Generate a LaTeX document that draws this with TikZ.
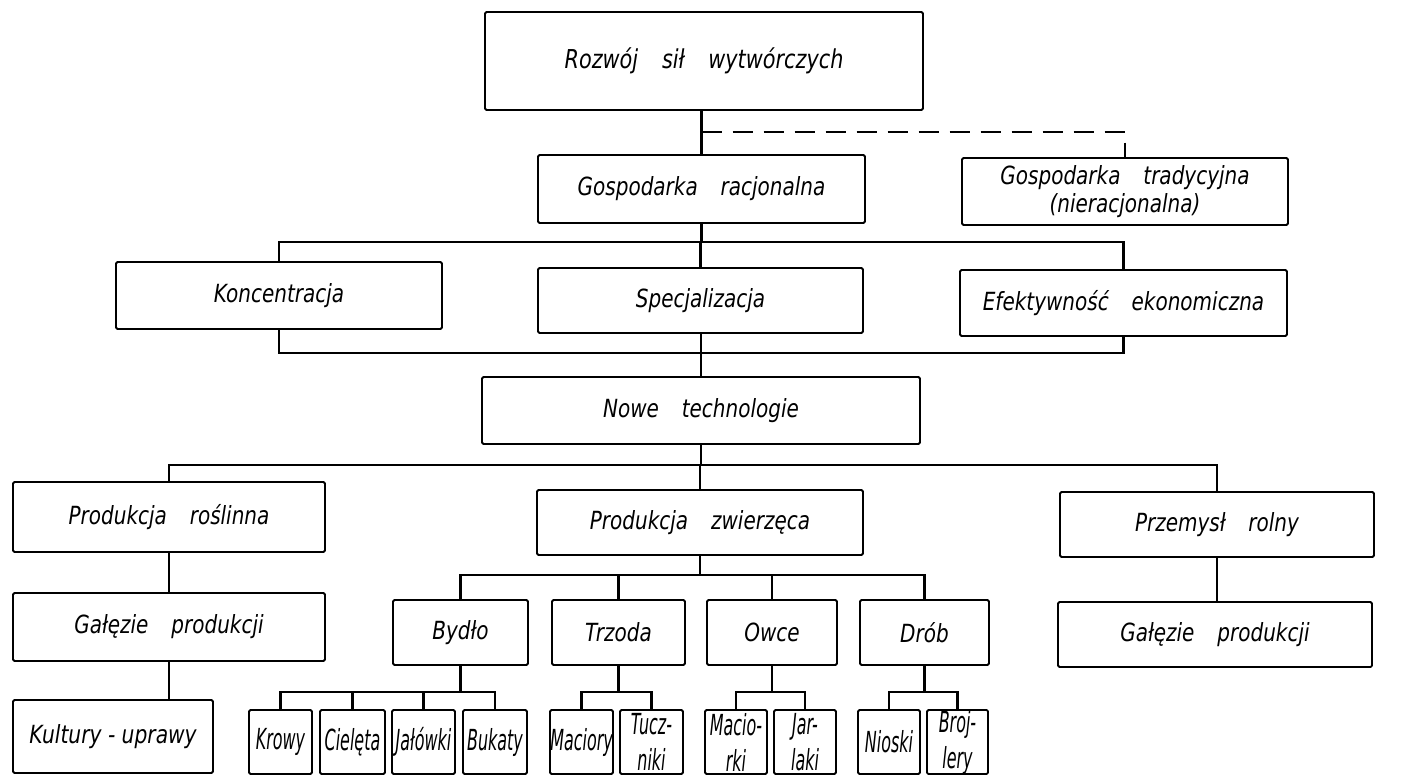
\documentclass[tikz,border=0pt]{standalone}
\usepackage{fontspec}
\newfontfamily\lett[FakeStretch=0.8,WordSpace=3.6]{DejaVu Sans}
\newfontfamily\lettk[FakeStretch=0.81]{DejaVu Sans}
\newfontfamily\lettn[FakeStretch=0.55]{DejaVu Sans}
\begin{document}
\begin{tikzpicture}[x=1pt,y=-1pt,
  box/.style={draw,line width=1.8pt,rounded corners=1.5pt,inner sep=0pt,
    font=\lett\itshape\fontsize{25}{28}\selectfont,align=center},
  leaf/.style={box,font=\lettn\itshape\fontsize{29}{36}\selectfont},
  conn/.style={line width=2.4pt},
  dashline/.style={line width=2.6pt,dash pattern=on 20pt off 11pt}]
\useasboundingbox (0,0) rectangle (1411,776);
\newcommand\bx[7][box]{\node[#1,minimum width={(#4-#2)*1pt},minimum height={(#5-#3)*1pt}] (#6) at ({(#2+#4)/2},{(#3+#5)/2}) {#7};}
% boxes
\bx{485}{12}{923}{110}{top}{\fontsize{26}{28}\selectfont Rozwój sił wytwórczych}
\bx{538}{155}{865}{223}{racj}{Gospodarka racjonalna}
\bx{962}{158}{1288}{225}{trad}{Gospodarka tradycyjna\\(nieracjonalna)}
\bx{116}{262}{442}{329}{konc}{Koncentracja}
\bx{538}{268}{863}{333}{spec}{Specjalizacja}
\bx{960}{270}{1287}{336}{eff}{Efektywność ekonomiczna}
\bx{482}{377}{920}{444}{nowe}{Nowe technologie}
\bx{13}{482}{325}{552}{rosl}{Produkcja roślinna}
\bx{537}{490}{863}{555}{zwierz}{Produkcja zwierzęca}
\bx{1060}{492}{1374}{557}{przem}{Przemysł rolny}
\bx{13}{593}{325}{661}{galA}{Gałęzie produkcji}
\bx{1058}{602}{1372}{667}{galB}{Gałęzie produkcji}
\bx{393}{600}{528}{665}{bydlo}{Bydło}
\bx{552}{600}{685}{665}{trzoda}{Trzoda}
\bx{707}{600}{837}{665}{owce}{Owce}
\bx{860}{600}{989}{665}{drob}{Drób}
\bx{13}{700}{213}{773}{kult}{\lettk\itshape Kultury - uprawy}
\bx[leaf]{249}{710}{312}{774}{krowy}{Krowy}
\bx[leaf]{320}{710}{385}{774}{ciel}{Cielęta}
\bx[leaf]{392}{710}{455}{774}{jal}{Jałówki}
\bx[leaf]{463}{710}{527}{774}{buk}{Bukaty}
\bx[leaf]{550}{710}{613}{774}{maci}{Maciory}
\bx[leaf]{620}{710}{683}{774}{tucz}{Tucz-\\niki}
\bx[leaf]{705}{710}{767}{774}{macik}{Macio-\\rki}
\bx[leaf]{774}{710}{836}{774}{jarl}{Jar-\\laki}
\bx[leaf]{858}{710}{920}{774}{nios}{Nioski}
\bx[leaf]{927}{710}{988}{774}{broj}{Broj-\\lery}
% connectors
\draw[conn] (racj.north |- top.south) -- (racj.north);
\coordinate (d1) at (701.5,132);
\draw[dashline] (d1) -| (trad.north);
\coordinate (bus1) at (700,242);
\draw[conn] (racj.south) -- (racj.south |- bus1);
\draw[conn] (konc.north) |- (bus1) -| (eff.north);
\draw[conn] (spec.north) -- (spec.north |- bus1);
\coordinate (bus2) at (700,353);
\draw[conn] (konc.south) |- (bus2) -| (eff.south);
\draw[conn] (nowe.north |- spec.south) -- (nowe.north);
\coordinate (bus3) at (701,465);
\draw[conn] (nowe.south) -- (nowe.south |- bus3);
\draw[conn] (rosl.north) |- (bus3) -| (przem.north);
\draw[conn] (zwierz.north) -- (zwierz.north |- bus3);
\draw[conn] (rosl.south) -- (galA.north);
\draw[conn] (galA.south) -- (galA.south |- kult.north);
\draw[conn] (przem.south) -- (przem.south |- galB.north);
\coordinate (bus4) at (700,575);
\draw[conn] (zwierz.south) -- (zwierz.south |- bus4);
\draw[conn] (bydlo.north) |- (bus4) -| (drob.north);
\draw[conn] (trzoda.north) -- (trzoda.north |- bus4);
\draw[conn] (owce.north) -- (owce.north |- bus4);
\coordinate (bus5) at (460.5,692);
\draw[conn] (bydlo.south) -- (bus5);
\draw[conn] (krowy.north) |- (bus5) -| (buk.north);
\draw[conn] (ciel.north) -- (ciel.north |- bus5);
\draw[conn] (jal.north) -- (jal.north |- bus5);
\coordinate (bus6) at (618.5,692);
\draw[conn] (trzoda.south) -- (bus6);
\draw[conn] (maci.north) |- (bus6) -| (tucz.north);
\coordinate (bus7) at (772,692);
\draw[conn] (owce.south) -- (bus7);
\draw[conn] (macik.north) |- (bus7) -| (jarl.north);
\coordinate (bus8) at (924.5,692);
\draw[conn] (drob.south) -- (bus8);
\draw[conn] (nios.north) |- (bus8) -| (broj.north);
\end{tikzpicture}
\end{document}
